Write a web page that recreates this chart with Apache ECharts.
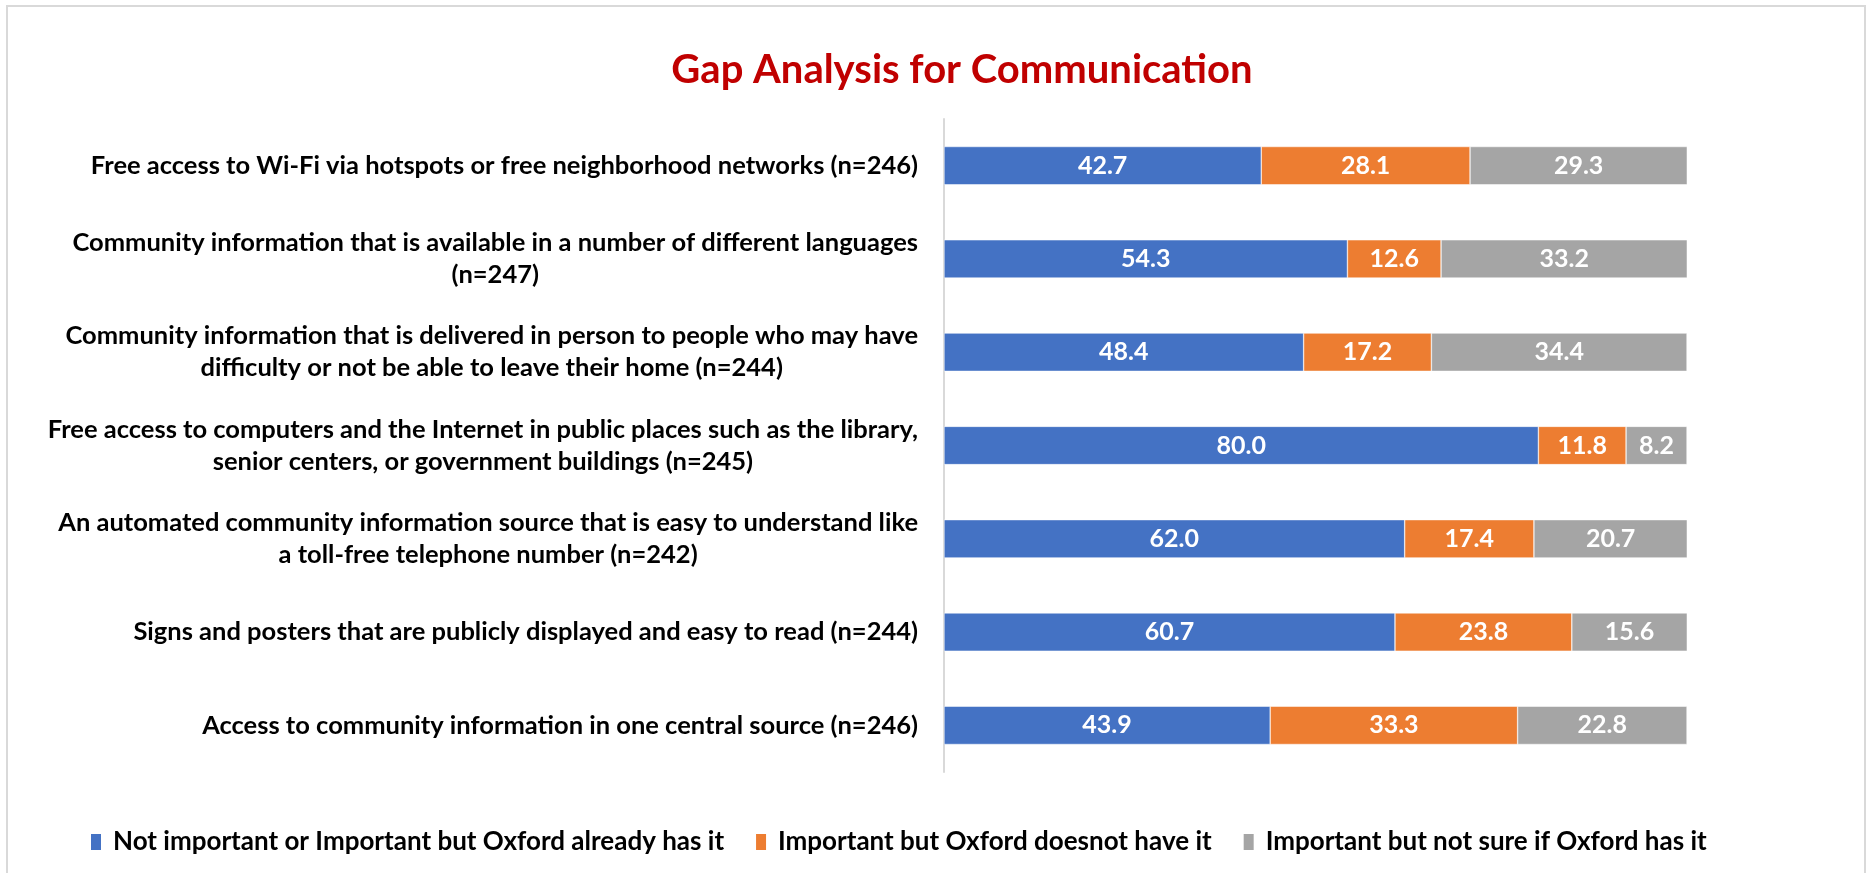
<!DOCTYPE html>
<html>
<head>
<meta charset="utf-8">
<script src="https://cdn.jsdelivr.net/npm/echarts@6/dist/echarts.min.js"></script>
<style>
html, body { margin: 0; padding: 0; background: #fff; }
#chart { width: 1869px; height: 873px; }
</style>
</head>
<body>
<div id="chart"></div>
<script>
// categories, top to bottom
var categories = [
  'Free access to Wi-Fi via hotspots or free neighborhood networks (n=246)',
  'Community information that is available in a number of different languages\n(n=247)',
  'Community information that is delivered in person to people who may have\ndifficulty or not be able to leave their home (n=244)',
  'Free access to computers and the Internet in public places such as the library,\nsenior centers, or government buildings (n=245)',
  'An automated community information source that is easy to understand like\na toll-free telephone number (n=242)',
  'Signs and posters that are publicly displayed and easy to read (n=244)',
  'Access to community information in one central source (n=246)'
];
var seriesNames = [
  'Not important or Important but Oxford already has it',
  'Important but Oxford doesnot have it',
  'Important but not sure if Oxford has it'
];
var hasIt = [42.7, 54.3, 48.4, 80.0, 62.0, 60.7, 43.9];
var notHave = [28.1, 12.6, 17.2, 11.8, 17.4, 23.8, 33.3];
var notSure = [29.3, 33.2, 34.4, 8.2, 20.7, 15.6, 22.8];
var colors = ['#4472C4', '#ED7D31', '#A5A5A5'];

var font = 'Lato, "Open Sans", sans-serif';

function makeSeries(name, data, color) {
  return {
    name: name,
    type: 'bar',
    stack: 'total',
    barWidth: '41%',
    data: data,
    itemStyle: { color: color, borderColor: '#fff', borderWidth: 0.5 },
    label: {
      show: true,
      position: 'inside',
      color: '#fff',
      fontFamily: font,
      fontWeight: 'bold',
      fontSize: 25,
      formatter: function (p) { return p.value.toFixed(1); }
    }
  };
}

var chart = echarts.init(document.getElementById('chart'));
chart.setOption({
  animation: false,
  color: colors,
  title: {
    text: 'Gap Analysis for Communication',
    left: 957,
    textAlign: 'center',
    top: 45,
    textStyle: { color: '#C00000', fontFamily: font, fontWeight: 'bold', fontSize: 40 }
  },
  graphic: [{
    type: 'rect',
    shape: { x: 7, y: 6, width: 1858, height: 880 },
    style: { fill: 'none', stroke: '#d9d9d9', lineWidth: 2 },
    silent: true
  }],
  legend: {
    bottom: 13,
    left: 84,
    itemWidth: 12,
    itemHeight: 18,
    itemGap: 30,
    icon: 'rect',
    textStyle: { fontFamily: font, fontWeight: 'bold', fontSize: 26, color: '#000', padding: [0, 0, 0, 6] },
    data: seriesNames
  },
  grid: { left: 944, right: 182, top: 119, bottom: 101, containLabel: false },
  xAxis: {
    type: 'value',
    min: 0,
    max: 100,
    show: false
  },
  yAxis: {
    type: 'category',
    inverse: true,
    data: categories,
    axisLine: { show: true, lineStyle: { color: '#d9d9d9', width: 2 } },
    axisTick: { show: false },
    axisLabel: {
      margin: 26,
      align: 'right',
      formatter: function (v) { return '{c|' + v + '}'; },
      rich: {
        c: {
          align: 'center',
          color: '#000',
          fontFamily: font,
          fontWeight: 'bold',
          fontSize: 25.5,
          lineHeight: 32
        }
      }
    }
  },
  series: [
    makeSeries(seriesNames[0], hasIt, colors[0]),
    makeSeries(seriesNames[1], notHave, colors[1]),
    makeSeries(seriesNames[2], notSure, colors[2])
  ]
});
</script>
</body>
</html>
